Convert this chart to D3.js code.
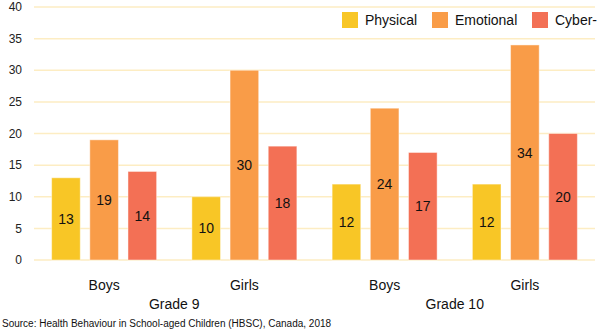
<!DOCTYPE html>
<html><head><meta charset="utf-8">
<script src="https://cdn.jsdelivr.net/npm/d3@7/dist/d3.min.js"></script>
<style>body{margin:0;background:#fff}svg{display:block;font-family:"Liberation Sans",Arial,Helvetica,sans-serif}</style>
</head><body><svg id="c" width="600" height="331"></svg>
<script>
const groups = ["Boys|Grade 9","Girls|Grade 9","Boys|Grade 10","Girls|Grade 10"];
const genders = ["Boys","Girls","Boys","Girls"];
const grades = ["Grade 9","Grade 10"];
const series = ["Physical","Emotional","Cyber-"];
const physical = [13,10,12,12];
const emotional = [19,30,24,34];
const cyber = [14,18,17,20];
const yTicks = [0,5,10,15,20,25,30,35,40];
const colors = ["#f8c626","#f99c48","#f37055"];
const source = "Source: Health Behaviour in School-aged Children (HBSC), Canada, 2018";

const values = [physical, emotional, cyber];
const svg = d3.select("#c");
const L = 34, R = 595, T = 7, B = 260;
const x0 = d3.scaleBand().domain(groups).range([L,R]).paddingInner(0.2514).paddingOuter(0.1257);
const x1 = d3.scaleBand().domain(series).range([0,x0.bandwidth()]).paddingInner(0.25).paddingOuter(0);
const y = d3.scaleLinear().domain([0,40]).range([B,T]);

// grid
svg.append("g").selectAll("line").data(yTicks).join("line")
  .attr("x1",L).attr("x2",R).attr("y1",d=>y(d)).attr("y2",d=>y(d))
  .attr("stroke","#fdedc3").attr("stroke-width",1.5);
// y labels
svg.append("g").selectAll("text").data(yTicks).join("text")
  .attr("x",22).attr("y",d=>y(d)).attr("dy","0.35em").attr("text-anchor","end")
  .attr("font-size",12).attr("fill","#222").text(d=>d);

// bars
const g = svg.append("g");
groups.forEach((gr,i)=>{
  series.forEach((s,j)=>{
    const v = values[j][i];
    const bx = x0(gr)+x1(s);
    g.append("rect").attr("x",bx).attr("y",y(v)).attr("width",x1.bandwidth()).attr("height",y(0)-y(v))
      .attr("fill",colors[j]).attr("stroke","#fff").attr("stroke-opacity",0.45).attr("stroke-width",1);
    g.append("text").attr("x",bx+x1.bandwidth()/2).attr("y",(y(v)+y(0))/2).attr("dy","0.36em")
      .attr("text-anchor","middle").attr("font-size",14).attr("fill","#111").text(v);
  });
});

// x labels
svg.append("g").selectAll("text").data(groups).join("text")
  .attr("x",d=>x0(d)+x0.bandwidth()/2).attr("y",290).attr("text-anchor","middle")
  .attr("font-size",14).attr("fill","#111").text((d,i)=>genders[i]);
grades.forEach((gd,k)=>{
  const a = groups[2*k], b = groups[2*k+1];
  const cx = (x0(a)+x0(b)+x0.bandwidth())/2;
  svg.append("text").attr("x",cx).attr("y",309).attr("text-anchor","middle")
    .attr("font-size",14).attr("fill","#111").text(gd);
});

// legend
svg.append("rect").attr("x",336).attr("y",9).attr("width",258).attr("height",26).attr("fill","#fff");
const legX = [342,432,532];
series.forEach((s,j)=>{
  svg.append("rect").attr("x",legX[j]).attr("y",12).attr("width",16).attr("height",16).attr("fill",colors[j]);
  svg.append("text").attr("x",legX[j]+23).attr("y",20).attr("dy","0.36em").attr("font-size",14).attr("fill","#111").text(s);
});

svg.append("text").attr("x",2).attr("y",327).attr("font-size",10).attr("fill","#111").text(source);
</script></body></html>
